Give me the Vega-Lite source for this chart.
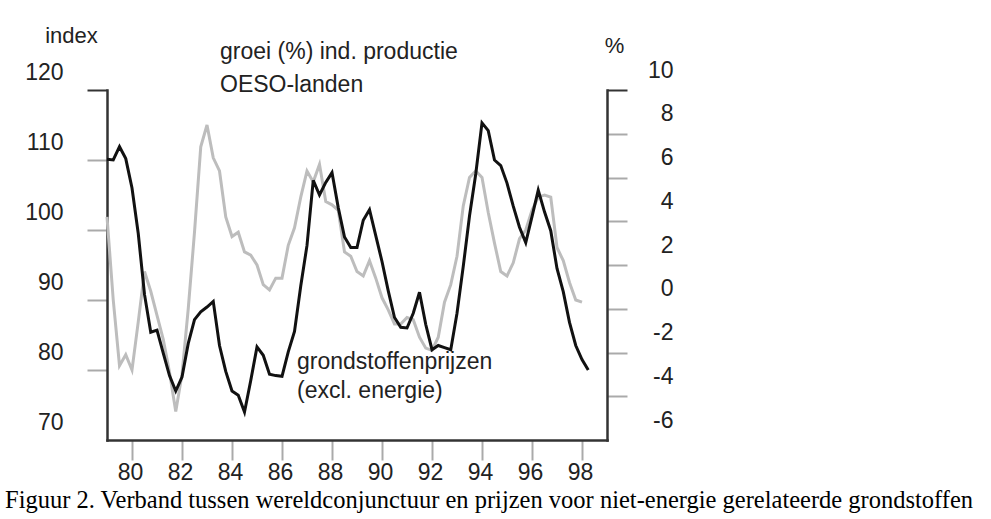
{
  "$schema": "https://vega.github.io/schema/vega-lite/v6.json",
  "width": 500,
  "height": 350,
  "autosize": "none",
  "padding": {"left": 107, "top": 90, "right": 384, "bottom": 79},
  "background": "white",
  "view": {"stroke": null},
  "config": {
    "font": "Liberation Sans",
    "axis": {"grid": false, "labelOverlap": false, "labelFlush": false, "labelFont": "Liberation Sans", "labelFontSize": 23, "labelColor": "#222", "domainColor": "#333", "domainWidth": 2.5, "domainCap": "square", "tickSize": 20, "tickWidth": 2, "tickColor": "#aaa", "titleFont": "Liberation Sans", "titleFontWeight": "normal", "titleFontSize": 22, "titleColor": "#222"}
  },
  "title": {
    "text": "Figuur 2. Verband tussen wereldconjunctuur en prijzen voor niet-energie gerelateerde grondstoffen",
    "orient": "bottom", "anchor": "start", "frame": "group", "dx": -102, "offset": 5,
    "font": "Liberation Serif", "fontSize": 24.5, "fontWeight": "normal", "color": "#000"
  },
  "datasets": {
    "grondstoffen": [
      {"year": 1979, "value": 110.1}, {"year": 1979.25, "value": 110.0}, {"year": 1979.5, "value": 111.9}, {"year": 1979.75, "value": 110.2},
      {"year": 1980, "value": 106.0}, {"year": 1980.25, "value": 99.5}, {"year": 1980.5, "value": 90.8}, {"year": 1980.75, "value": 85.4},
      {"year": 1981, "value": 85.7}, {"year": 1981.25, "value": 82.4}, {"year": 1981.5, "value": 79.2}, {"year": 1981.75, "value": 77.0},
      {"year": 1982, "value": 79.0}, {"year": 1982.25, "value": 83.8}, {"year": 1982.5, "value": 87.2}, {"year": 1982.75, "value": 88.3},
      {"year": 1983, "value": 89.0}, {"year": 1983.25, "value": 89.8}, {"year": 1983.5, "value": 83.5}, {"year": 1983.75, "value": 79.8},
      {"year": 1984, "value": 77.0}, {"year": 1984.25, "value": 76.4}, {"year": 1984.5, "value": 74.0}, {"year": 1984.75, "value": 78.5},
      {"year": 1985, "value": 83.3}, {"year": 1985.25, "value": 82.1}, {"year": 1985.5, "value": 79.4}, {"year": 1985.75, "value": 79.2},
      {"year": 1986, "value": 79.1}, {"year": 1986.25, "value": 82.6}, {"year": 1986.5, "value": 85.5}, {"year": 1986.75, "value": 92.0},
      {"year": 1987, "value": 97.8}, {"year": 1987.25, "value": 107.1}, {"year": 1987.5, "value": 105.0}, {"year": 1987.75, "value": 106.8},
      {"year": 1988, "value": 108.2}, {"year": 1988.25, "value": 103.2}, {"year": 1988.5, "value": 99.0}, {"year": 1988.75, "value": 97.5},
      {"year": 1989, "value": 97.5}, {"year": 1989.25, "value": 101.4}, {"year": 1989.5, "value": 102.9}, {"year": 1989.75, "value": 99.2},
      {"year": 1990, "value": 95.5}, {"year": 1990.25, "value": 91.3}, {"year": 1990.5, "value": 87.5}, {"year": 1990.75, "value": 86.1},
      {"year": 1991, "value": 86.0}, {"year": 1991.25, "value": 88.1}, {"year": 1991.5, "value": 91.1}, {"year": 1991.75, "value": 86.5},
      {"year": 1992, "value": 82.9}, {"year": 1992.25, "value": 83.5}, {"year": 1992.5, "value": 83.2}, {"year": 1992.75, "value": 82.9},
      {"year": 1993, "value": 88.1}, {"year": 1993.25, "value": 94.8}, {"year": 1993.5, "value": 102.0}, {"year": 1993.75, "value": 108.0},
      {"year": 1994, "value": 115.3}, {"year": 1994.25, "value": 114.2}, {"year": 1994.5, "value": 110.0}, {"year": 1994.75, "value": 109.2},
      {"year": 1995, "value": 106.7}, {"year": 1995.25, "value": 103.4}, {"year": 1995.5, "value": 100.4}, {"year": 1995.75, "value": 98.2},
      {"year": 1996, "value": 101.9}, {"year": 1996.25, "value": 105.7}, {"year": 1996.5, "value": 102.6}, {"year": 1996.75, "value": 99.9},
      {"year": 1997, "value": 94.5}, {"year": 1997.25, "value": 91.2}, {"year": 1997.5, "value": 86.8}, {"year": 1997.75, "value": 83.5},
      {"year": 1998, "value": 81.5}, {"year": 1998.25, "value": 80.0}
    ],
    "groei": [
      {"year": 1979, "value": 4.2}, {"year": 1979.25, "value": 0.4}, {"year": 1979.5, "value": -2.6}, {"year": 1979.75, "value": -2.1},
      {"year": 1980, "value": -2.8}, {"year": 1980.25, "value": -0.6}, {"year": 1980.5, "value": 1.7}, {"year": 1980.75, "value": 0.8},
      {"year": 1981, "value": -0.3}, {"year": 1981.25, "value": -1.4}, {"year": 1981.5, "value": -2.9}, {"year": 1981.75, "value": -4.7},
      {"year": 1982, "value": -3.0}, {"year": 1982.25, "value": 0.0}, {"year": 1982.5, "value": 3.5}, {"year": 1982.75, "value": 7.4},
      {"year": 1983, "value": 8.4}, {"year": 1983.25, "value": 6.9}, {"year": 1983.5, "value": 6.3}, {"year": 1983.75, "value": 4.2},
      {"year": 1984, "value": 3.3}, {"year": 1984.25, "value": 3.5}, {"year": 1984.5, "value": 2.6}, {"year": 1984.75, "value": 2.45},
      {"year": 1985, "value": 2.0}, {"year": 1985.25, "value": 1.1}, {"year": 1985.5, "value": 0.86}, {"year": 1985.75, "value": 1.4},
      {"year": 1986, "value": 1.4}, {"year": 1986.25, "value": 2.9}, {"year": 1986.5, "value": 3.7}, {"year": 1986.75, "value": 5.1},
      {"year": 1987, "value": 6.3}, {"year": 1987.25, "value": 5.8}, {"year": 1987.5, "value": 6.6}, {"year": 1987.75, "value": 4.9},
      {"year": 1988, "value": 4.75}, {"year": 1988.25, "value": 4.5}, {"year": 1988.5, "value": 2.6}, {"year": 1988.75, "value": 2.4},
      {"year": 1989, "value": 1.7}, {"year": 1989.25, "value": 1.5}, {"year": 1989.5, "value": 2.2}, {"year": 1989.75, "value": 1.4},
      {"year": 1990, "value": 0.5}, {"year": 1990.25, "value": -0.05}, {"year": 1990.5, "value": -0.7}, {"year": 1990.75, "value": -0.7},
      {"year": 1991, "value": -0.4}, {"year": 1991.25, "value": -0.5}, {"year": 1991.5, "value": -1.3}, {"year": 1991.75, "value": -1.8},
      {"year": 1992, "value": -1.9}, {"year": 1992.25, "value": -1.3}, {"year": 1992.5, "value": 0.3}, {"year": 1992.75, "value": 1.1},
      {"year": 1993, "value": 2.4}, {"year": 1993.25, "value": 4.7}, {"year": 1993.5, "value": 6.0}, {"year": 1993.75, "value": 6.3},
      {"year": 1994, "value": 6.0}, {"year": 1994.25, "value": 4.4}, {"year": 1994.5, "value": 3.0}, {"year": 1994.75, "value": 1.7},
      {"year": 1995, "value": 1.5}, {"year": 1995.25, "value": 2.1}, {"year": 1995.5, "value": 3.2}, {"year": 1995.75, "value": 3.6},
      {"year": 1996, "value": 4.5}, {"year": 1996.25, "value": 5.1}, {"year": 1996.5, "value": 5.2}, {"year": 1996.75, "value": 5.1},
      {"year": 1997, "value": 2.8}, {"year": 1997.25, "value": 2.2}, {"year": 1997.5, "value": 1.2}, {"year": 1997.75, "value": 0.4},
      {"year": 1998, "value": 0.3}
    ],
    "labels": [
      {"label": "groei (%) ind. productie", "year": 1983.52, "value": 125.4},
      {"label": "OESO-landen", "year": 1983.52, "value": 120.7},
      {"label": "grondstoffenprijzen", "year": 1986.6, "value": 81.1},
      {"label": "(excl. energie)", "year": 1986.6, "value": 77.0}
    ]
  },
  "layer": [
    {
      "data": {"name": "groei"},
      "mark": {"type": "line", "color": "#bdbdbd", "strokeWidth": 3},
      "encoding": {
        "x": {"field": "year", "type": "quantitative", "scale": {"domain": [1979, 1999], "nice": false, "zero": false},
          "axis": {"orient": "bottom", "title": null, "values": [1980, 1982, 1984, 1986, 1988, 1990, 1992, 1994, 1996, 1998], "labelExpr": "datum.value - 1900", "labelPadding": 1, "labelOffset": -2}},
        "y": {"field": "value", "type": "quantitative", "scale": {"domain": [-6, 10], "nice": false, "zero": false},
          "axis": {"orient": "right", "title": "%", "titleAngle": 0, "titleX": 7, "titleY": -45, "titleAlign": "center", "titleBaseline": "middle",
            "values": [-6, -4, -2, 0, 2, 4, 6, 8, 10], "labelExpr": "datum.value < 0 ? '-' + abs(datum.value) : '' + datum.value",
            "labelAlign": "right", "labelBaseline": "middle", "labelPadding": 46, "labelOffset": -20,
            "tickColor": {"condition": {"test": "datum.value == 10", "value": "#333"}, "value": "#aaa"},
            "tickOpacity": {"condition": {"test": "datum.value == -6", "value": 0}, "value": 1}}}
      }
    },
    {
      "layer": [
        {
          "data": {"name": "grondstoffen"},
          "mark": {"type": "line", "color": "#111", "strokeWidth": 3},
          "encoding": {
            "x": {"field": "year", "type": "quantitative"},
            "y": {"field": "value", "type": "quantitative", "scale": {"domain": [70, 120], "nice": false, "zero": false},
              "axis": {"orient": "left", "title": "index", "titleAngle": 0, "titleX": -36, "titleY": -55, "titleAlign": "center", "titleBaseline": "middle",
                "values": [70, 80, 90, 100, 110, 120], "labelPadding": 24, "labelOffset": -18, "labelBaseline": "middle",
                "tickColor": {"condition": {"test": "datum.value == 120", "value": "#333"}, "value": "#aaa"},
                "tickOpacity": {"condition": {"test": "datum.value == 70", "value": 0}, "value": 1}}}
          }
        },
        {
          "data": {"name": "labels"},
          "mark": {"type": "text", "align": "left", "baseline": "middle", "font": "Liberation Sans", "fontSize": 23, "color": "#222"},
          "encoding": {
            "x": {"field": "year", "type": "quantitative"},
            "y": {"field": "value", "type": "quantitative"},
            "text": {"field": "label"}
          }
        }
      ]
    }
  ],
  "resolve": {"scale": {"y": "independent"}, "axis": {"y": "independent"}}
}
